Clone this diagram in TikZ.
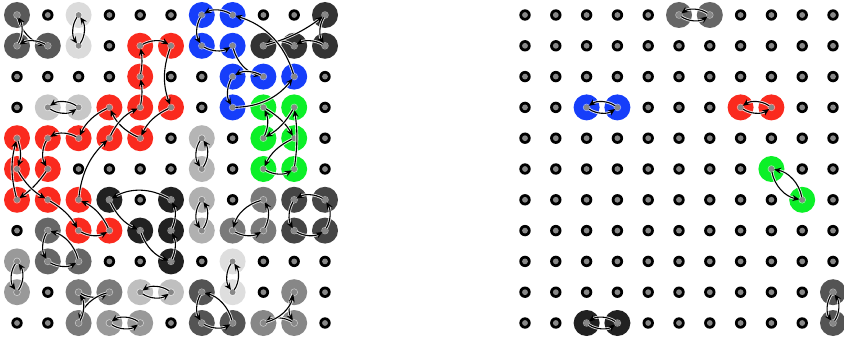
\documentclass[tikz,border=0pt]{standalone}
\usetikzlibrary{arrows.meta}
\definecolor{cred}{RGB}{250,42,30}
\definecolor{cblue}{RGB}{22,62,250}
\definecolor{cgreen}{RGB}{12,240,40}
\definecolor{dotgray}{RGB}{136,136,136}
\tikzset{
  arr/.style={-{Stealth[length=7pt,width=6pt]}, line width=1.1pt, black,
    shorten >=2.8pt, shorten <=2.8pt,
    preaction={draw=white, draw opacity=0.85, line width=2.8pt, -, shorten >=7pt}},
  pr/.style={arr, bend right=35},
}
\begin{document}
\begin{tikzpicture}[x=1pt,y=1pt]
\useasboundingbox (0,0) rectangle (844,338);
\foreach \i in {0,...,10} \foreach \j in {0,...,10} {
  \coordinate (l\i-\j) at ({17+30.8*\i},{323-30.8*\j});
  \coordinate (r\i-\j) at ({525+30.8*\i},{323-30.8*\j});
  \fill[black] (l\i-\j) circle (5.7pt);
  \fill[black] (r\i-\j) circle (5.7pt);
}
% disks
\foreach \c/\col in {
  l0-0/black!65, l0-1/black!65, l1-1/black!65,
  l2-0/black!14, l2-1/black!14,
  l4-1/cred, l5-1/cred, l4-2/cred, l3-3/cred, l4-3/cred, l5-3/cred,
  l0-4/cred, l1-4/cred, l2-4/cred, l3-4/cred, l4-4/cred, l0-5/cred, l1-5/cred,
  l0-6/cred, l1-6/cred, l2-6/cred, l2-7/cred, l3-7/cred,
  l6-0/cblue, l7-0/cblue, l6-1/cblue, l7-1/cblue, l7-2/cblue, l8-2/cblue, l9-2/cblue, l7-3/cblue,
  l10-0/black!80, l8-1/black!80, l9-1/black!80, l10-1/black!80,
  l1-3/black!22, l2-3/black!22,
  l8-3/cgreen, l9-3/cgreen, l8-4/cgreen, l9-4/cgreen, l8-5/cgreen, l9-5/cgreen,
  l6-4/black!29, l6-5/black!29,
  l3-6/black!87, l5-6/black!87, l4-7/black!87, l5-7/black!87, l5-8/black!87,
  l6-6/black!31, l6-7/black!31,
  l8-6/black!52, l7-7/black!52, l8-7/black!52,
  l9-6/black!73, l10-6/black!73, l9-7/black!73, l10-7/black!73,
  l1-7/black!60, l1-8/black!60, l2-8/black!60,
  l0-8/black!40, l0-9/black!40,
  l7-8/black!13, l7-9/black!13,
  l2-9/black!52, l3-9/black!52, l2-10/black!52,
  l4-9/black!25, l5-9/black!25,
  l3-10/black!40, l4-10/black!40,
  l6-9/black!67, l6-10/black!67, l7-10/black!67,
  l9-9/black!47, l8-10/black!47, l9-10/black!47,
  r5-0/black!60, r6-0/black!60,
  r2-3/cblue, r3-3/cblue,
  r7-3/cred, r8-3/cred,
  r8-5/cgreen, r9-6/cgreen,
  r2-10/black!87, r3-10/black!87,
  r10-9/black!67, r10-10/black!67}
{
  \fill[\col] (\c) circle (13pt);
  \draw[white, draw opacity=0.55, line width=0.8pt] (\c) circle (3.3pt);
}
\foreach \i in {0,...,10} \foreach \j in {0,...,10} {
  \fill[dotgray] (l\i-\j) circle (2.9pt);
  \fill[dotgray] (r\i-\j) circle (2.9pt);
}
% pairs
\foreach \a/\b in {l2-0/l2-1, l1-3/l2-3, l6-4/l6-5, l6-6/l6-7, l0-8/l0-9,
  l7-8/l7-9, l4-9/l5-9, l3-10/l4-10, r5-0/r6-0, r2-3/r3-3, r7-3/r8-3,
  r8-5/r9-6, r2-10/r3-10, r10-9/r10-10}
{
  \draw[pr] (\a) to (\b);
  \draw[pr] (\b) to (\a);
}
% triangles and small cycles
\foreach \a/\b in {l0-0/l1-1, l1-1/l0-1, l0-1/l0-0,
  l8-6/l7-7, l7-7/l8-7, l8-7/l8-6,
  l1-7/l1-8, l1-8/l2-8, l2-8/l1-7,
  l2-9/l3-9, l3-9/l2-10, l2-10/l2-9,
  l6-9/l6-10, l6-10/l7-10, l7-10/l6-9,
  l9-9/l9-10, l9-10/l8-10, l8-10/l9-9,
  l10-6/l9-6, l9-6/l9-7, l9-7/l10-7, l10-7/l10-6,
  l10-0/l10-1, l10-1/l9-1, l9-1/l8-1}
{
  \draw[arr] (\a) to[bend right=30] (\b);
}
\draw[arr] (l8-1) to[bend right=10] (l10-0);
% blue
\draw[arr] (l7-0) to[bend right=30] (l6-0);
\draw[arr] (l6-0) to[bend right=30] (l6-1);
\draw[arr] (l6-1) to[bend right=30] (l7-1);
\draw[arr] (l7-1) to[bend right=30] (l8-2);
\draw[arr] (l8-2) to[bend right=30] (l7-2);
\draw[arr] (l7-2) to[bend right=30] (l7-3);
\draw[arr] (l7-3) to[bend right=25] (l9-2);
\draw[arr] (l9-2) to[bend right=28] (l7-0);
% green
\draw[arr] (l8-3) to[bend left=15] (l9-4);
\draw[arr] (l9-4) to[bend right=20] (l8-5);
\draw[arr] (l8-5) to[bend right=30] (l9-5);
\draw[arr] (l9-5) to[bend right=8] (l9-3);
\draw[arr] (l9-3) to[bend left=15] (l8-4);
\draw[arr] (l8-4) to[bend right=25] (l8-3);
% dark
\draw[arr] (l5-6) to[bend right=30] (l3-6);
\draw[arr] (l3-6) to[bend right=20] (l4-7);
\draw[arr] (l4-7) to[bend right=25] (l5-8);
\draw[arr] (l5-8) to[bend right=25] (l5-7);
\draw[arr] (l5-7) to[bend right=25] (l5-6);
% red
\draw[arr] (l4-1) to[bend left=30] (l5-1);
\draw[arr] (l5-1) to[bend right=20] (l5-3);
\draw[arr] (l5-3) to[bend right=20] (l4-4);
\draw[arr] (l4-4) to[bend left=20] (l3-3);
\draw[arr] (l3-3) to[bend right=20] (l2-4);
\draw[arr] (l2-4) to[bend right=30] (l1-4);
\draw[arr] (l1-4) to[bend right=30] (l1-5);
\draw[arr] (l1-5) to[bend left=10] (l0-6);
\draw[arr] (l0-6) to[bend left=15] (l0-4);
\draw[arr] (l0-4) to[bend left=20] (l0-5);
\draw[arr] (l0-5) to[bend right=15] (l1-6);
\draw[arr] (l1-6) to[bend left=15] (l2-7);
\draw[arr] (l2-7) to[bend right=30] (l3-7);
\draw[arr] (l3-7) to[bend right=20] (l2-6);
\draw[arr] (l2-6) to[bend left=20] (l3-4);
\draw[arr] (l3-4) to[bend left=20] (l4-3);
\draw[arr] (l4-3) to[bend right=10] (l4-2);
\draw[arr] (l4-2) to[bend right=10] (l4-1);
\end{tikzpicture}
\end{document}
